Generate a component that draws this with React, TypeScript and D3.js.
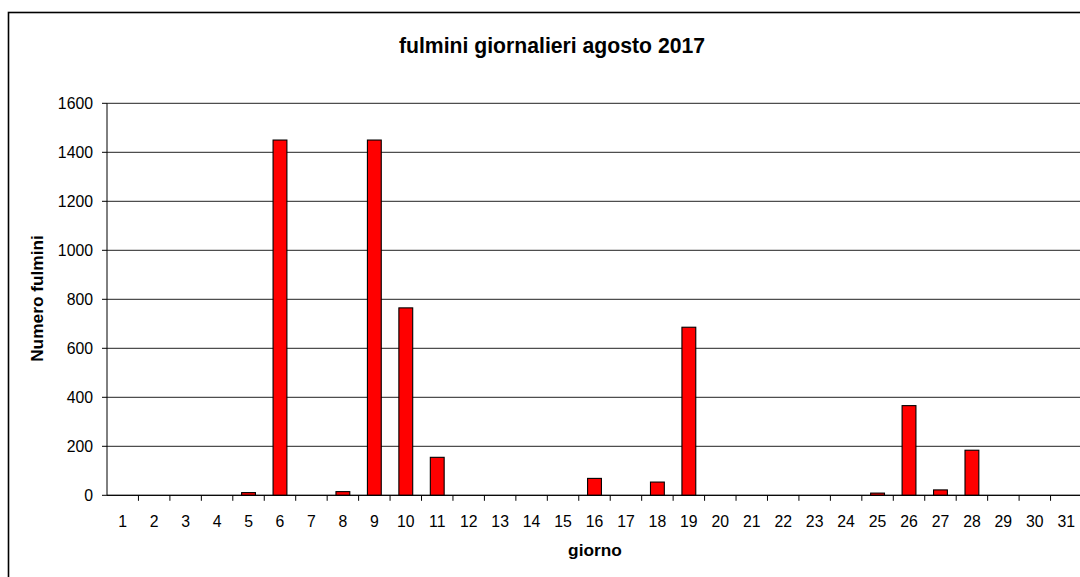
import * as d3 from "d3";

// giorni di agosto e numero di fulmini
const giorni = d3.range(1, 32).map(String);
const fulmini = [
  0, 0, 0, 0, 11, 1450, 0, 15, 1450, 765, 155, 0, 0, 0, 0, 69, 0, 54, 686, 0,
  0, 0, 0, 0, 9, 366, 22, 184, 0, 0, 0,
];
const yTicks = [0, 200, 400, 600, 800, 1000, 1200, 1400, 1600];

const titolo = "fulmini giornalieri agosto 2017";
const etichettaY = "Numero fulmini";
const etichettaX = "giorno";

const W = 1080;
const H = 577;
const plot = { left: 107, right: 1082, top: 103.3, bottom: 495.3 };
const font = "'Liberation Sans', Arial, sans-serif";

export default function App() {
  const x = d3
    .scaleBand<string>()
    .domain(giorni)
    .range([plot.left, plot.right]);
  const y = d3.scaleLinear().domain([0, 1600]).range([plot.bottom, plot.top]);
  const bw = x.bandwidth() * 0.44;

  return (
    <svg
      width={W}
      height={H}
      style={{ position: "absolute", left: 0, top: 0, background: "#fff" }}
    >
      {/* bordo esterno del grafico */}
      <rect
        x={8.5}
        y={12.5}
        width={1200}
        height={700}
        fill="none"
        stroke="#000"
        strokeWidth={1.6}
      />
      <text
        x={552}
        y={52.5}
        textAnchor="middle"
        fontFamily={font}
        fontWeight="bold"
        fontSize={21.2}
      >
        {titolo}
      </text>

      {/* griglia */}
      {yTicks.map((t) => (
        <line
          key={"g" + t}
          x1={plot.left}
          x2={plot.right}
          y1={y(t)}
          y2={y(t)}
          stroke={t === 0 ? "#000" : "#222"}
          strokeWidth={1}
        />
      ))}

      {/* barre */}
      {fulmini.map((v, i) =>
        v > 0 ? (
          <rect
            key={"b" + i}
            x={x(giorni[i])! + (x.bandwidth() - bw) / 2}
            y={y(v)}
            width={bw}
            height={plot.bottom - y(v)}
            fill="#ff0000"
            stroke="#000"
            strokeWidth={1.1}
          />
        ) : null
      )}

      {/* asse y */}
      <line
        x1={plot.left}
        x2={plot.left}
        y1={plot.top}
        y2={plot.bottom}
        stroke="#000"
      />
      {yTicks.map((t) => (
        <g key={"y" + t}>
          <line
            x1={plot.left - 5}
            x2={plot.left}
            y1={y(t)}
            y2={y(t)}
            stroke="#000"
          />
          <text
            x={93}
            y={y(t)}
            dy="0.36em"
            textAnchor="end"
            fontFamily={font}
            fontSize={15.8}
          >
            {t}
          </text>
        </g>
      ))}

      {/* asse x */}
      <line
        x1={plot.left}
        x2={plot.right}
        y1={plot.bottom}
        y2={plot.bottom}
        stroke="#000"
      />
      {giorni.map((g) => (
        <g key={"x" + g}>
          <line
            x1={x(g)! + x.bandwidth()}
            x2={x(g)! + x.bandwidth()}
            y1={plot.bottom}
            y2={plot.bottom + 5.5}
            stroke="#000"
          />
          <text
            x={x(g)! + x.bandwidth() / 2}
            y={526.5}
            textAnchor="middle"
            fontFamily={font}
            fontSize={15.8}
          >
            {g}
          </text>
        </g>
      ))}

      <text
        x={595}
        y={556}
        textAnchor="middle"
        fontFamily={font}
        fontWeight="bold"
        fontSize={17.3}
      >
        {etichettaX}
      </text>
      <text
        transform={`translate(43,298.5) rotate(-90)`}
        textAnchor="middle"
        fontFamily={font}
        fontWeight="bold"
        fontSize={17.3}
      >
        {etichettaY}
      </text>
    </svg>
  );
}
